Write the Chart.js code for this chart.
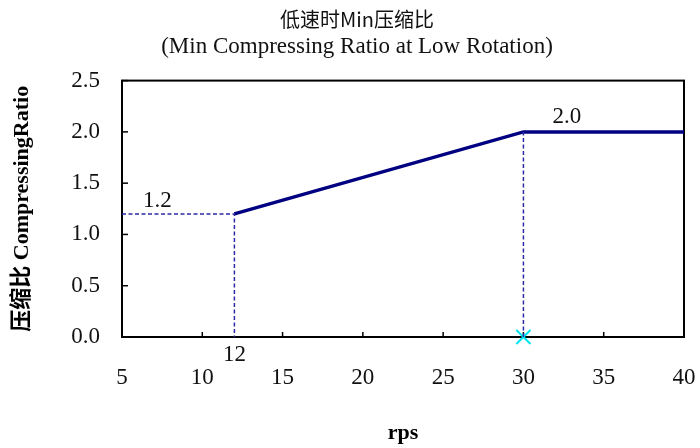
<!DOCTYPE html>
<html>
<head>
<meta charset="utf-8">
<script src="https://cdn.jsdelivr.net/npm/chart.js@4.4.1/dist/chart.umd.min.js"></script>
<style>
  body { margin: 0; background: #fff; }
  canvas { display: block; }
</style>
</head>
<body>
<canvas id="ratioChart" width="700" height="448"></canvas>
<script>
// main curve
const rps = [12, 30, 40];
const ratio = [1.2, 2.0, 2.0];

// dashed guide lines
const guide12X = [5, 12, 12];
const guide12Y = [1.2, 1.2, 0];
const guide30X = [30, 30];
const guide30Y = [0, 2.0];

// cyan marker on the axis
const markX = [30];
const markY = [0];

const xTicks = [5, 10, 15, 20, 25, 30, 35, 40];
const yTicks = [0, 0.5, 1.0, 1.5, 2.0, 2.5];

const toPts = (xs, ys) => xs.map((x, i) => ({ x: x, y: ys[i] }));

const serif = "'Liberation Serif', 'Noto Sans CJK SC', serif";
const navy = '#000080';
const guide = '#2a2aa6';

// frame + inward tick marks + value labels
const framePlugin = {
  id: 'frame',
  beforeDatasetsDraw(chart) {
    const { ctx, chartArea: a, scales } = chart;
    ctx.save();
    ctx.strokeStyle = '#000';
    ctx.lineWidth = 1.5;
    yTicks.forEach(v => {
      const y = scales.y.getPixelForValue(v);
      ctx.beginPath();
      ctx.moveTo(a.left, y);
      ctx.lineTo(a.left + 6, y);
      ctx.stroke();
    });
    xTicks.forEach(v => {
      const x = scales.x.getPixelForValue(v);
      ctx.beginPath();
      ctx.moveTo(x, a.bottom);
      ctx.lineTo(x, a.bottom - 5);
      ctx.stroke();
    });
    ctx.lineWidth = 2;
    ctx.strokeRect(a.left, a.top, a.right - a.left, a.bottom - a.top);
    ctx.restore();
  },
  afterDraw(chart) {
    const { ctx, chartArea: a, scales } = chart;
    ctx.save();
    ctx.font = '23px ' + serif;
    ctx.fillStyle = '#111';
    ctx.textAlign = 'center';
    ctx.textBaseline = 'middle';
    ctx.fillText('1.2', scales.x.getPixelForValue(7.2), scales.y.getPixelForValue(1.33));
    ctx.fillText('2.0', scales.x.getPixelForValue(32.7), scales.y.getPixelForValue(2.15));
    ctx.fillText('12', scales.x.getPixelForValue(12), a.bottom + 18);
    ctx.restore();
  }
};

new Chart(document.getElementById('ratioChart'), {
  type: 'line',
  data: {
    datasets: [
      {
        data: toPts(guide12X, guide12Y),
        borderColor: guide,
        borderWidth: 1.5,
        borderDash: [4, 2.5],
        pointRadius: 0
      },
      {
        data: toPts(guide30X, guide30Y),
        borderColor: guide,
        borderWidth: 1.5,
        borderDash: [4, 2.5],
        pointRadius: 0
      },
      {
        data: toPts(rps, ratio),
        borderColor: navy,
        borderWidth: 3.5,
        pointRadius: 0
      },
      {
        data: toPts(markX, markY),
        showLine: false,
        pointStyle: 'crossRot',
        pointRadius: 10,
        pointBorderWidth: 2,
        pointBorderColor: '#00e5f0',
        clip: false
      }
    ]
  },
  options: {
    responsive: false,
    animation: false,
    layout: { padding: { left: 30, right: 16, top: 0, bottom: 0 } },
    plugins: {
      legend: { display: false },
      tooltip: { enabled: false },
      title: {
        display: true,
        text: '低速时Min压缩比',
        color: '#111',
        font: { family: "'Noto Sans CJK SC', sans-serif", size: 20, weight: 'normal' },
        padding: { top: 7, bottom: 0 }
      },
      subtitle: {
        display: true,
        text: '(Min Compressing Ratio at Low Rotation)',
        color: '#111',
        font: { family: serif, size: 23 },
        padding: { top: 2, bottom: 20 }
      }
    },
    scales: {
      x: {
        type: 'linear',
        min: 5,
        max: 40,
        afterFit: s => { s.height = 111; s.paddingLeft = 0; s.paddingRight = 0; },
        grid: { display: false, drawTicks: false },
        border: { display: false },
        ticks: {
          stepSize: 5,
          padding: 27,
          color: '#111',
          font: { family: serif, size: 23 }
        },
        title: {
          display: true,
          text: 'rps',
          color: '#000',
          font: { family: serif, size: 22, weight: 'bold' },
          padding: { top: 0, bottom: 1 }
        }
      },
      y: {
        min: 0,
        max: 2.5,
        afterFit: s => { s.width = 92; },
        grid: { display: false, drawTicks: false },
        border: { display: false },
        ticks: {
          stepSize: 0.5,
          padding: 22,
          color: '#111',
          font: { family: serif, size: 23 },
          callback: v => v.toFixed(1)
        },
        title: {
          display: true,
          text: '压缩比 CompressingRatio',
          color: '#000',
          font: { family: serif, size: 22, weight: 'bold' },
          padding: { top: -21, bottom: 0 }
        }
      }
    }
  },
  plugins: [framePlugin]
});
</script>
</body>
</html>
